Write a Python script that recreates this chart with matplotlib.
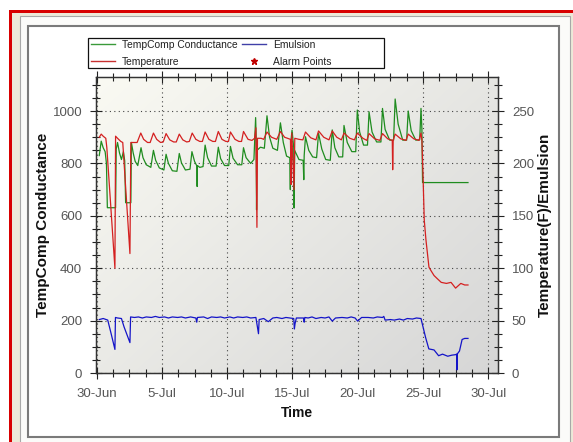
import matplotlib
matplotlib.use('Agg')
import matplotlib.pyplot as plt
from matplotlib.patches import Rectangle
from matplotlib.lines import Line2D
from matplotlib.ticker import MultipleLocator, FixedLocator
import numpy as np

plt.rcParams['font.family'] = ['Liberation Sans', 'DejaVu Sans']

# ---------------- data (days after 30-Jun) ----------------
x_tick_pos = [0, 5, 10, 15, 20, 25, 30]
x_tick_labels = ['30-Jun', '5-Jul', '10-Jul', '15-Jul', '20-Jul', '25-Jul', '30-Jul']
left_ticks = [0, 200, 400, 600, 800, 1000]
right_ticks = [0, 50, 100, 150, 200, 250]

cond_days = [0.20, 0.35, 0.50, 0.65, 0.75, 0.82, 1.45, 1.50, 1.60, 1.75, 1.90, 2.05, 2.15, 2.22, 2.62, 2.66, 2.80, 2.95,
             3.15, 3.40, 3.55, 3.80,
             4.15, 4.35, 4.52, 4.80,
             5.15, 5.32, 5.50, 5.80,
             6.15, 6.33, 6.50, 6.80,
             7.15, 7.30, 7.50, 7.68, 7.70, 7.72, 7.90,
             8.15, 8.31, 8.50, 8.80,
             9.15, 9.32, 9.50, 9.80,
             10.12, 10.25, 10.45, 10.80,
             11.12, 11.25, 11.45, 11.80,
             12.05, 12.18, 12.22, 12.25, 12.28, 12.55, 12.85,
             13.05, 13.25, 13.50, 13.85,
             14.08, 14.30, 14.55, 14.80, 14.84, 14.87, 14.97, 15.10, 15.13, 15.17, 15.50, 15.82, 15.87, 15.90,
             16.00, 16.25, 16.55, 16.85,
             17.00, 17.25, 17.55, 17.90,
             18.05, 18.25, 18.55, 18.85,
             18.95, 19.20, 19.55, 19.85,
             19.97, 20.15, 20.45, 20.75,
             20.87, 21.10, 21.45, 21.78,
             21.90, 22.10, 22.45, 22.75,
             22.87, 23.10, 23.45, 23.75,
             23.87, 24.10, 24.45, 24.75,
             24.85, 24.92, 24.97, 28.45]
cond_vals = [830, 885, 860, 845, 800, 631, 631, 855, 880, 840, 815, 845, 810, 650, 650, 880, 840, 808,
             792, 860, 822, 795,
             785, 850, 812, 783,
             775, 835, 800, 772,
             770, 838, 802, 775,
             778, 845, 808, 790, 712, 792, 785,
             788, 870, 822, 790,
             790, 862, 818, 792,
             792, 865, 820, 795,
             795, 860, 822, 800,
             815, 975, 900, 623, 850, 862, 858,
             982, 900, 858, 850,
             955, 880, 828, 822, 700, 880, 927, 860, 630, 850, 815, 812, 738, 830,
             902, 850, 825, 822,
             915, 855, 815, 812,
             928, 860, 825, 825,
             945, 880, 845, 845,
             1004, 920, 870, 870,
             997, 920, 882, 882,
             1010, 930, 889, 889,
             1046, 950, 889, 889,
             1000, 925, 889, 890,
             1010, 930, 727, 727]

temp_days = [0.20, 0.35, 0.50, 0.70, 0.78, 1.40, 1.45, 1.60, 1.85, 2.00, 2.55, 2.62, 2.85,
             3.10, 3.38, 3.60, 3.90,
             4.10, 4.35, 4.60, 4.90,
             5.10, 5.32, 5.60, 5.90,
             6.10, 6.33, 6.60, 6.90,
             7.10, 7.32, 7.60, 7.90,
             8.10, 8.31, 8.60, 8.90,
             9.10, 9.32, 9.60, 9.90,
             10.10, 10.25, 10.60, 10.90,
             11.10, 11.25, 11.60, 11.90,
             12.10, 12.20, 12.28, 12.32, 12.60, 12.80,
             13.05, 13.40, 13.80,
             14.08, 14.40, 14.85, 14.90, 14.95, 15.12, 15.18, 15.50, 15.80,
             16.00, 16.40, 16.80,
             17.00, 17.40, 17.80,
             18.05, 18.40, 18.75,
             18.95, 19.40, 19.75,
             19.97, 20.40, 20.70,
             20.87, 21.30, 21.70,
             21.90, 22.30, 22.65, 22.68, 22.72,
             22.87, 23.30, 23.70,
             23.87, 24.30, 24.70,
             24.85, 24.92, 25.00, 25.10, 25.23, 25.46, 25.60, 25.85, 26.10, 26.40, 26.80, 27.15, 27.50, 27.90, 28.20, 28.45]
temp_vals = [225, 228, 226, 224, 215, 100, 226, 224, 221, 220, 114, 220, 220,
             220, 229, 223, 220,
             220, 229, 223, 220,
             220.5, 228.5, 222.5, 220.5,
             220.5, 228, 222.5, 220.5,
             221, 229, 223, 221,
             221, 230, 223, 221,
             221, 230.5, 223, 221,
             221, 230, 223, 221,
             221, 230.5, 223, 222,
             224, 234, 139, 224, 224, 223,
             230, 225, 223,
             230.5, 225, 223, 180, 229, 175, 224, 223, 222.5,
             230, 224.5, 222.5,
             231, 225, 222.5,
             231, 225, 222.5,
             229, 224, 222.5,
             229, 224, 222,
             228.5, 223.5, 222,
             228.5, 223.5, 222, 194, 222,
             228, 223.5, 222,
             228, 223.5, 222,
             229, 222, 191, 146, 127, 101, 98, 93, 90, 86.5, 85.5, 86.5, 81, 85.5, 84, 84]

emul_days = [0.20, 0.50, 0.85, 1.10, 1.40, 1.44, 1.60, 1.90, 2.10, 2.55, 2.60, 2.90,
             3.20, 3.50, 3.80, 4.20, 4.50, 4.80, 5.20, 5.50, 5.80, 6.20, 6.50, 6.80,
             7.20, 7.60, 7.67, 7.72, 8.20, 8.50, 8.80, 9.20, 9.50, 9.80,
             10.20, 10.50, 10.80, 11.20, 11.50, 11.80,
             12.20, 12.40, 12.45, 12.80, 13.15, 13.50, 13.80, 14.20, 14.50, 14.80,
             15.10, 15.15, 15.20, 15.30, 15.85, 15.90, 15.95,
             16.20, 16.50, 16.80, 17.20, 17.50, 17.80, 18.05, 18.30, 18.80,
             19.20, 19.50, 19.80, 20.00, 20.30, 20.80, 21.20, 21.50, 21.90,
             22.00, 22.10, 22.50, 22.80, 23.20, 23.50, 23.80, 24.20, 24.50, 24.85,
             25.20, 25.45, 25.85, 26.20, 26.50, 26.90, 27.20, 27.50, 27.58, 27.60, 27.62, 27.80, 28.00, 28.20, 28.45]
emul_vals = [51.0, 52.0, 50.5, 38.0, 22.5, 53.0, 52.5, 52.0, 44.0, 29.0, 53.5, 53.0,
             53.5, 52.5, 53.5, 53.0, 54.0, 53.0, 53.5, 52.5, 53.5, 53.0, 53.5, 52.5,
             53.5, 52.5, 48.5, 53.0, 53.5, 52.0, 53.5, 53.0, 53.5, 52.5,
             53.5, 52.5, 53.5, 53.0, 53.5, 52.5,
             53.0, 37.5, 51.0, 52.0, 49.0, 52.5, 53.0, 52.0, 53.0, 52.5,
             52.0, 42.0, 47.0, 52.5, 52.5, 48.5, 53.0,
             52.5, 53.5, 52.0, 53.0, 52.5, 53.5, 49.5, 52.5, 53.0,
             52.5, 53.5, 52.5, 49.5, 53.0, 53.0, 52.5, 53.5, 53.0,
             54.0, 50.5, 51.0, 50.5, 51.5, 50.5, 52.0, 51.5, 52.5, 52.0,
             34.0, 23.0, 22.0, 16.5, 18.0, 16.0, 17.0, 17.5, 18.0, 3.0, 18.0, 21.0, 32.0, 33.0, 33.0]

series_labels = ['TempComp Conductance', 'Temperature', 'Emulsion', 'Alarm Points']

# ---------------- figure ----------------
W, H = 573, 442
fig = plt.figure(figsize=(W / 100, H / 100), dpi=100)
fig.patch.set_facecolor('white')


def px_rect(x0, y0, x1, y1, **kw):
    return Rectangle((x0 / W, 1 - y1 / H), (x1 - x0) / W, (y1 - y0) / H,
                     transform=fig.transFigure, **kw)


fig.add_artist(px_rect(9, 10, 620, 500, facecolor='#d80000', edgecolor='none', zorder=-10))
fig.add_artist(px_rect(12, 13, 620, 500, facecolor='#ece9d8', edgecolor='none', zorder=-9))
fig.add_artist(px_rect(19.5, 16.5, 569.5, 500, facecolor='#fbfbf9', edgecolor='#a8a8a8',
                       linewidth=0.8, zorder=-8))
fig.add_artist(px_rect(28, 26, 559, 437, facecolor='white', edgecolor='#7a7a7a',
                       linewidth=1.5, zorder=-7))

ax_l, ax_r, ax_t, ax_b = 96, 498, 77, 373
ax = fig.add_axes([ax_l / W, 1 - ax_b / H, (ax_r - ax_l) / W, (ax_b - ax_t) / H])
ax2 = ax.twinx()

# gradient background
gx = np.linspace(0, 1, 200)
gy = np.linspace(0, 1, 200)
GX, GY = np.meshgrid(gx, gy)
g = 0.55 * GX + 0.45 * GY
c0 = np.array([250, 250, 243]) / 255
c1 = np.array([214, 214, 214]) / 255
img = c0[None, None, :] * (1 - g[..., None]) + c1[None, None, :] * g[..., None]
ax.imshow(img, extent=[0, 1, 0, 1], transform=ax.transAxes, aspect='auto', zorder=0,
          interpolation='bilinear')

green = '#1f8c1f'
red = '#d42020'
blue = '#1414c8'

ax.plot(cond_days, cond_vals, color=green, lw=0.9, zorder=3)
ax2.plot(temp_days, temp_vals, color=red, lw=0.9, zorder=3)
ax2.plot(emul_days, emul_vals, color=blue, lw=0.9, zorder=3)

ax.set_xlim(-0.05, 30.75)
ax.set_ylim(0, 1130)
ax2.set_ylim(0, 1130 / 4)
ax.set_aspect('auto')

ax.xaxis.set_major_locator(FixedLocator(x_tick_pos))
ax.set_xticklabels(x_tick_labels)
ax.xaxis.set_minor_locator(MultipleLocator(1.25))
ax.yaxis.set_major_locator(FixedLocator(left_ticks))
ax.yaxis.set_minor_locator(MultipleLocator(50))
ax2.yaxis.set_major_locator(FixedLocator(right_ticks))
ax2.yaxis.set_minor_locator(MultipleLocator(12.5))

tick_col = '#555555'
for a in (ax, ax2):
    a.tick_params(which='major', direction='inout', length=8, width=0.8, color='#222222',
                  labelcolor=tick_col, labelsize=9.5)
    a.tick_params(which='minor', direction='inout', length=6, width=0.8, color='#222222')
    for s in a.spines.values():
        s.set_color('#333333')
        s.set_linewidth(0.9)
ax.tick_params(axis='x', which='both', top=True, pad=7)
ax.tick_params(axis='y', which='both', pad=6)
ax2.tick_params(axis='y', which='both', pad=6)

ax.grid(which='major', axis='both', linestyle=(0, (1, 3)), color='#444444', linewidth=0.8)
ax.set_axisbelow(False)

ax.set_ylabel('TempComp Conductance', fontsize=11, fontweight='bold', color='#111111')
ax.yaxis.set_label_coords((43 - ax_l) / (ax_r - ax_l), 0.5)
ax2.set_ylabel('Temperature(F)/Emulsion', fontsize=11, fontweight='bold', color='#111111',
               rotation=90)
ax2.yaxis.set_label_coords((545 - ax_l) / (ax_r - ax_l), 0.5)
ax.set_xlabel('Time', fontsize=10, fontweight='bold', color='#111111')
ax.xaxis.set_label_coords(0.5, -(413 - ax_b) / (ax_b - ax_t))
for lab in (ax.yaxis.label, ax2.yaxis.label, ax.xaxis.label):
    lab.set_verticalalignment('center')
    lab.set_horizontalalignment('center')

# legend box
fig.add_artist(px_rect(88, 38, 384, 68, facecolor='white', edgecolor='#111111',
                       linewidth=0.9, zorder=4))
handles = [Line2D([], [], color='#3a9a3a', lw=1.0),
           Line2D([], [], color='#c83030', lw=1.0),
           Line2D([], [], color='#4040a8', lw=1.0),
           Line2D([], [], color='#c00000', marker='*', markersize=5, linestyle='none')]
leg = fig.legend(handles, series_labels, ncol=2, loc='upper left',
                 bbox_to_anchor=(91 / W, 1 - 39.5 / H), frameon=False,
                 prop={'size': 7.4},
                 handlelength=2.3, handletextpad=0.7, columnspacing=0.45, borderpad=0,
                 borderaxespad=0, labelspacing=0.7)
leg.set_zorder(5)
for t in leg.get_texts():
    t.set_color('#222222')

fig.savefig('out.png', dpi=100)
